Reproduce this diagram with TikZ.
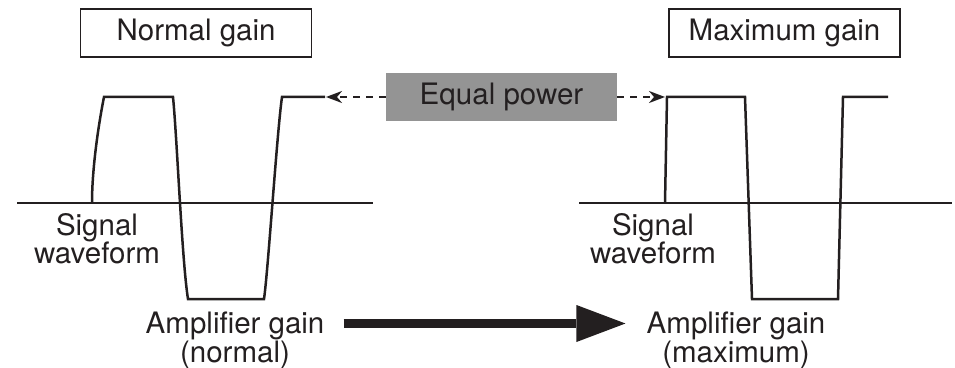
\documentclass[tikz,border=0pt]{standalone}
\usepackage{fontspec}
\setmainfont{TeX Gyre Heros}
\usetikzlibrary{arrows.meta}
\definecolor{inkblack}{HTML}{231F20}
\definecolor{powergray}{HTML}{949494}
\tikzset{
    wave/.style={draw=inkblack, line width=2.5pt, line join=miter},
    axisline/.style={draw=inkblack, line width=2.2pt},
    titlebox/.style={draw=inkblack, line width=1.6pt, minimum width=231pt, minimum height=48pt,
        inner sep=0pt, text=inkblack, font=\fontsize{29.5}{31}\selectfont},
    powerbox/.style={fill=powergray, minimum width=231pt, minimum height=48pt,
        inner sep=0pt, text=inkblack, font=\fontsize{29.5}{31}\selectfont},
    wavetext/.style={align=center, anchor=north, inner sep=0pt, text=inkblack,
        font=\fontsize{29.5}{28.5}\selectfont},
    gaintext/.style={align=center, anchor=north, inner sep=0pt, text=inkblack,
        font=\fontsize{29.5}{21}\selectfont},
    powerarrow/.style={draw=inkblack, line width=2pt, dash pattern=on 7pt off 6pt,
        -{Stealth[length=16pt, width=12pt, inset=5pt]}},
    gainarrow/.style={draw=inkblack, line width=9.5pt,
        -{Triangle[length=49pt, width=37pt, line width=0pt]}}
}
\begin{document}
\begin{tikzpicture}[x=1pt, y=1pt]
    \useasboundingbox (0,0) rectangle (955,367);

    % Titles and labels
    \foreach \name/\x/\txt in {normal/196/Normal gain, maximum/784.5/Maximum gain} {
        \node[titlebox] (\name-title) at (\x,334) {\txt};
    }
    \foreach \name/\x in {normal/97, maximum/653} {
        \node[wavetext] (\name-signal) at (\x,154) {Signal\\waveform};
    }
    \foreach \name/\x/\txt in {normal/235/normal, maximum/736/maximum} {
        \node[gaintext] (\name-gain) at (\x,55) {Amplifier gain\\(\txt)};
    }
    \node[powerbox] (power) at (501.5,270) {Equal power};

    % Normal gain
    \draw[axisline] (17,164) -- (373,164);
    \draw[wave] (92,164) .. controls (92,200) and (99,245) .. (104,270) -- (173,270)
        .. controls (177,230) and (182,105) .. (188,68) -- (264,68)
        .. controls (268,95) and (277,235) .. (282,270) -- (325,270) coordinate (normal-end);

    % Maximum gain
    \draw[axisline] (579,164) -- (952,164);
    \draw[wave] (665,164) -- (667,270) -- (745,270) -- (752,68) -- (838,68)
        -- (843,270) -- (888,270);
    \coordinate (maximum-start) at (665,270);

    % Arrows
    \draw[powerarrow] (power.west) -- ([xshift=1pt]normal-end);
    \draw[powerarrow] (power.east) -- (maximum-start);
    \draw[gainarrow] ([xshift=19pt, yshift=-11.5pt]normal-gain.north east)
        -- ([xshift=-21pt, yshift=-11.5pt]maximum-gain.north west);
\end{tikzpicture}
\end{document}
